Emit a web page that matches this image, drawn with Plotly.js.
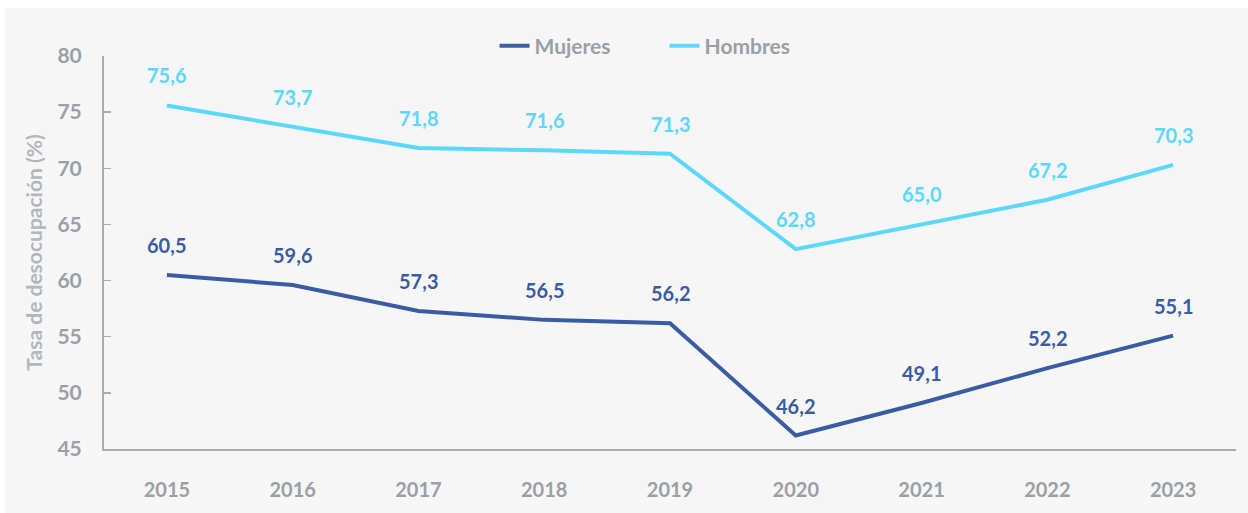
<!DOCTYPE html>
<html>
<head>
<meta charset="utf-8">
<script src="https://cdn.plot.ly/plotly-3.0.1.min.js"></script>
<style>
  html, body { margin: 0; padding: 0; background: #ffffff; }
  #chart { position: absolute; left: 5px; top: 8px; width: 1243px; height: 505px; }
</style>
</head>
<body>
<div id="chart"></div>
<script>
// data
const years = ["2015", "2016", "2017", "2018", "2019", "2020", "2021", "2022", "2023"];
const mujeres = [60.5, 59.6, 57.3, 56.5, 56.2, 46.2, 49.1, 52.2, 55.1];
const hombres = [75.6, 73.7, 71.8, 71.6, 71.3, 62.8, 65.0, 67.2, 70.3];
const yTicks = [45, 50, 55, 60, 65, 70, 75, 80];

const COL_MUJ = "#3a5ca3";
const COL_HOM = "#5cd8fd";
const GRAY = "#9aa0a6";
const FONT = "Lato, 'Open Sans', sans-serif";

const fmt = v => v.toFixed(1).replace(".", ",");

// data labels above each point (x as category index)
function labels(values, color) {
  return values.map((v, i) => ({
    x: i,
    y: v,
    xref: "x",
    yref: "y",
    text: "<b>" + fmt(v) + "</b>",
    showarrow: false,
    yshift: 30,
    font: { family: FONT, size: 20, color: color },
  }));
}

const traces = [
  {
    type: "scatter",
    mode: "lines",
    name: "<b>Mujeres</b>",
    x: years,
    y: mujeres,
    line: { color: COL_MUJ, width: 4 },
    hoverinfo: "skip",
  },
  {
    type: "scatter",
    mode: "lines",
    name: "<b>Hombres</b>",
    x: years,
    y: hombres,
    line: { color: COL_HOM, width: 4 },
    hoverinfo: "skip",
  },
];

const layout = {
  width: 1243,
  height: 505,
  margin: { l: 99, r: 12, t: 48, b: 64 },
  paper_bgcolor: "#f6f6f6",
  plot_bgcolor: "#f6f6f6",
  font: { family: FONT, color: GRAY },
  showlegend: true,
  legend: {
    orientation: "h",
    x: 0.345,
    xanchor: "left",
    y: 1.025,
    yanchor: "middle",
    entrywidth: 125,
    font: { family: FONT, size: 21, color: GRAY },
    bgcolor: "rgba(0,0,0,0)",
  },
  xaxis: {
    type: "category",
    range: [-0.5, 8.5],
    showgrid: false,
    zeroline: false,
    showline: true,
    linecolor: "#a9adb2",
    linewidth: 2,
    ticks: "",
    ticklabelstandoff: 22,
    tickfont: { family: FONT, size: 20, color: GRAY, weight: "bold" },
  },
  yaxis: {
    range: [45, 80],
    tickvals: yTicks,
    showgrid: false,
    zeroline: false,
    showline: true,
    linecolor: "#a9adb2",
    linewidth: 2,
    ticks: "inside",
    ticklen: 7,
    tickwidth: 1.5,
    tickcolor: "#a9adb2",
    ticklabelstandoff: 16,
    tickfont: { family: FONT, size: 21, color: GRAY, weight: "bold" },
    title: {
      text: "<b>Tasa de desocupación (%)</b>",
      standoff: 9,
      font: { family: FONT, size: 21, color: "#b3b7bb" },
    },
  },
  annotations: [...labels(mujeres, COL_MUJ), ...labels(hombres, COL_HOM)],
};

Plotly.newPlot("chart", traces, layout, { displayModeBar: false, staticPlot: true });
</script>
</body>
</html>
